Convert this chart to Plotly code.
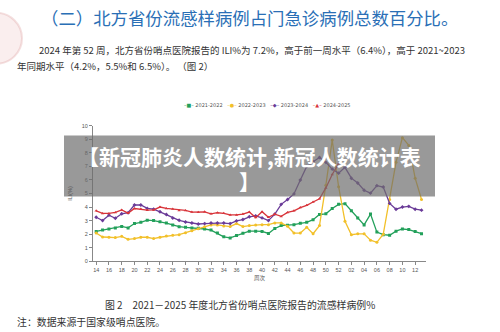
import plotly.graph_objects as go

W, H = 500, 332

weeks = [str(w) for w in range(14, 53)] + ["%02d" % w for w in range(1, 14)]
tick_labels = [str(w) for w in range(14, 53, 2)] + ["%02d" % w for w in range(2, 13, 2)]

s2122 = [2.2, 2.3, 2.38, 2.45, 2.57, 2.46, 2.78, 2.87, 3.03, 3.0, 2.92, 2.82, 2.68, 2.55, 2.5, 2.46,
         2.44, 2.38, 2.3, 2.08, 1.8, 1.72, 1.9, 2.07, 2.22, 2.22, 2.2, 2.05, 2.42, 2.63, 2.66, 2.7,
         2.8, 2.87, 3.07, 3.45, 3.5, 3.9, 4.2, 4.25, 3.73, 3.2, 2.68, 3.48, 2.15, 1.96, 1.92, 2.22,
         2.38, 2.34, 2.2, 2.03]
s2223 = [2.08, 1.79, 1.77, 1.75, 1.84, 1.62, 1.67, 1.77, 1.77, 1.67, 1.77, 1.86, 1.91, 1.96, 2.1, 2.25,
         2.39, 2.55, 2.68, 2.68, 2.6, 2.56, 2.78, 2.56, 2.63, 2.68, 2.7, 2.7, 2.83, 2.83, 2.58, 2.08,
         2.08, 2.5, 2.03, 2.63, 5.6, 8.95, 5.5, 2.95, 1.96, 2.02, 2.02, 1.55, 1.4, 2.0, 4.56, 7.3,
         9.12, 8.55, 6.13, 4.56]
s2324 = [3.25, 3.0, 3.4, 3.17, 3.5, 3.58, 4.15, 4.15, 3.9, 3.85, 3.65, 3.45, 3.19, 3.02, 2.9, 2.82,
         2.75, 2.78, 2.82, 2.82, 2.82, 2.78, 2.98, 3.08, 3.28, 3.35, 3.2, 3.0, 3.48, 4.2, 4.56, 4.97,
         6.0, 7.0, 7.34, 7.66, 7.3, 6.8, 6.5, 6.93, 6.13, 5.77, 5.24, 5.03, 5.58, 5.48, 4.27, 3.84,
         4.0, 4.05, 3.84, 3.77]
s2425 = [3.72, 3.53, 3.53, 3.6, 3.79, 3.55, 3.89, 3.85, 3.77, 3.79, 4.0, 3.9, 3.85, 3.75, 3.75, 3.63,
         3.62, 3.65, 3.5, 3.58, 3.54, 3.42, 3.42, 3.48, 3.63, 3.22, 3.66, 3.24, 3.48, 3.31, 3.6, 3.72,
         3.96, 4.13, 4.37, 4.61, 5.41, 6.4, 7.2]

series_names = ["2021-2022", "2022-2023", "2023-2024", "2024-2025"]
series_vals = [s2122, s2223, s2324, s2425]
colors = ["#22a05a", "#f2c02a", "#6a3b98", "#d8343a"]
symbols = ["square", "circle", "diamond", "triangle-up"]
legend_glyphs = ["■", "●", "◆", "▲"]


def px(x):
    return x / W


def py(y):
    return (H - y) / H


fig = go.Figure()
for name, vals, c, sym in zip(series_names, series_vals, colors, symbols):
    fig.add_trace(go.Scatter(
        x=weeks[:len(vals)], y=vals, name=name, mode="lines+markers",
        line=dict(color=c, width=1.3),
        marker=dict(symbol=sym, size=3, color=c),
    ))

axis_font = dict(family="Liberation Sans, Arial", size=5.5, color="#555")
fig.update_layout(
    width=W, height=H,
    margin=dict(l=0, r=0, t=0, b=0),
    paper_bgcolor="white", plot_bgcolor="white",
    showlegend=False,
    xaxis=dict(domain=[px(93), px(426)], type="category", categoryorder="array",
               categoryarray=weeks, range=[-0.5, 51.7],
               tickmode="array", tickvals=tick_labels, ticktext=tick_labels,
               showgrid=False, zeroline=False, showline=True, linecolor="#888", linewidth=1,
               ticks="outside", ticklen=3, tickcolor="#888", tickfont=axis_font,
               title=dict(text="周次", font=dict(family="Noto Sans CJK SC", size=5.5, color="#555"),
                          standoff=4)),
    yaxis=dict(domain=[py(263), py(125)], range=[0, 10], dtick=1, tick0=0,
               showgrid=False, zeroline=False, showline=True, linecolor="#888", linewidth=1,
               ticks="outside", ticklen=3, tickcolor="#888", tickfont=axis_font,
               title=dict(text="ILI(%)", font=dict(family="Liberation Sans, Arial", size=5.5, color="#555"),
                          standoff=8)),
)

# compact legend line (built from the series names / colours)
legend_parts = []
for name, c, g in zip(series_names, colors, legend_glyphs):
    legend_parts.append('<span style="color:%s">–%s–</span> %s' % (c, g, name))
legend_text = "&nbsp;&nbsp;&nbsp;".join(legend_parts)

# decorative faint virus graphic top-left
fig.add_shape(type="circle", xref="paper", yref="paper",
              x0=px(-30), x1=px(22), y0=py(62), y1=py(10),
              fillcolor="rgba(225,160,160,0.18)", line=dict(color="rgba(210,130,130,0.25)", width=2),
              layer="below")

# gray overlay banner
fig.add_shape(type="rect", xref="paper", yref="paper",
              x0=px(64), x1=px(435), y0=py(197), y1=py(135),
              fillcolor="rgba(110,110,110,0.7)", line=dict(width=0), layer="above")

cjk = "Noto Sans CJK SC"
anns = [
    dict(text=legend_text, x=px(267), y=py(104), xanchor="center",
         font=dict(family="DejaVu Sans", size=5, color="#555")),
    dict(text="（二）北方省份流感样病例占门急诊病例总数百分比。", x=px(39), y=py(15), xanchor="left",
         font=dict(family=cjk, size=17.4, color="#2a6fb6")),
    dict(text="2024 年第 52 周，北方省份哨点医院报告的 ILI%为 7.2%，高于前一周水平（6.4%），高于 2021~2023",
         x=px(37), y=py(48), xanchor="left", font=dict(family=cjk, size=9.5, color="#333")),
    dict(text="年同期水平（4.2%，5.5%和 6.5%）。 （图 2）",
         x=px(15), y=py(64), xanchor="left", font=dict(family=cjk, size=9.5, color="#333")),
    dict(text="<b>【新冠肺炎人数统计,新冠人数统计表</b>", x=px(249), y=py(156), xanchor="center",
         font=dict(family=cjk, size=21, color="white")),
    dict(text="<b>】</b>", x=px(249), y=py(181), xanchor="center",
         font=dict(family=cjk, size=21, color="white")),
    dict(text="图 2　2021－2025 年度北方省份哨点医院报告的流感样病例%", x=px(240), y=py(308),
         xanchor="center", font=dict(family=cjk, size=9.9, color="#333")),
    dict(text="注：数据来源于国家级哨点医院。", x=px(15), y=py(325), xanchor="left",
         font=dict(family=cjk, size=9.9, color="#333")),
]
for a in anns:
    a.update(xref="paper", yref="paper", yanchor="middle", showarrow=False)
    fig.add_annotation(**a)

fig.write_html("out.html")
